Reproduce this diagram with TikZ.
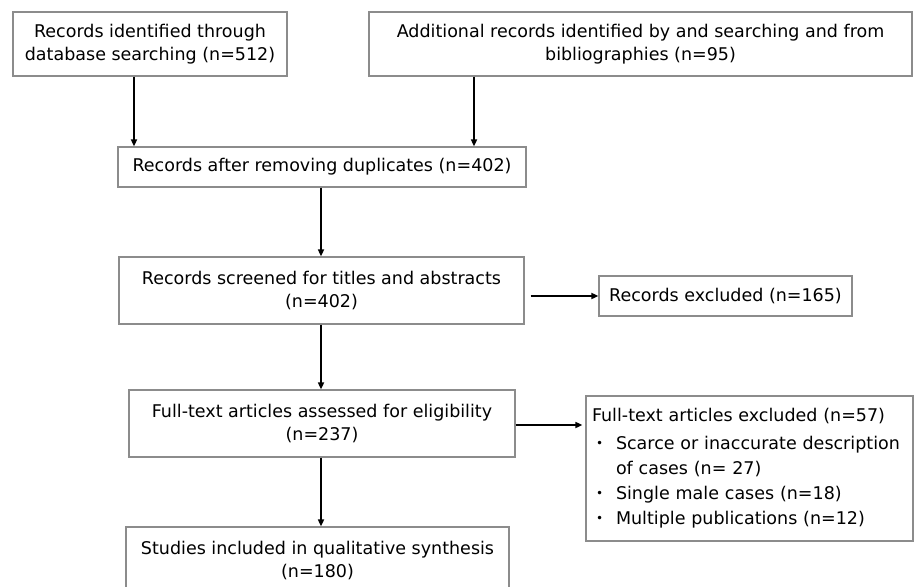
\documentclass[tikz,border=0pt]{standalone}
\usepackage{fontspec}
\setmainfont{DejaVu Sans}
\usepackage{xcolor}
\usetikzlibrary{arrows.meta}
\definecolor{boxgray}{HTML}{8C8C8C}

\tikzset{
  box/.style={draw=boxgray, line width=1.2pt, inner sep=0pt, align=center,
    font=\fontsize{17.5}{23}\selectfont},
  flow/.style={->, line width=1.6pt, black}
}
\newcommand{\bul}{\hspace*{4pt}\makebox[20pt][l]{\raisebox{2pt}{\fontsize{12}{12}\selectfont •}}}

\begin{document}
\begin{tikzpicture}[>={Triangle[length=7pt,width=6pt]}, x=1pt, y=-1pt]
  \useasboundingbox (0,0) rectangle (917,586);
  \clip (0,0) rectangle (917,586);
  \fill[white] (0,0) rectangle (917,586);
  % boxes
  \node[box, minimum width=274pt, minimum height=64pt] (ident) at (150,44)
    {Records identified through\\database searching (n=512)};
  \node[box, minimum width=543pt, minimum height=64pt] (extra) at (640.5,44)
    {Additional records identified by and searching and from\\bibliographies (n=95)};
  \node[box, minimum width=408pt, minimum height=40pt] (dedup) at (322,167)
    {Records after removing duplicates (n=402)};
  \node[box, minimum width=405pt, minimum height=67pt] (screen) at (321.5,290.5)
    {Records screened for titles and abstracts\\(n=402)};
  \node[box, minimum width=253pt, minimum height=40pt] (excl) at (725.5,296)
    {Records excluded (n=165)};
  \node[box, minimum width=386pt, minimum height=67pt] (elig) at (322,423.5)
    {Full-text articles assessed for eligibility\\(n=237)};
  \node[box, minimum width=327pt, minimum height=145pt, align=left,
    text width=315pt, font=\fontsize{17.5}{25.3}\selectfont] (ftexcl) at (749.5,468.5)
    {\raisebox{2pt}{Full-text articles excluded (n=57)}\\
     \bul Scarce or inaccurate description\\
     \hspace*{24pt}of cases (n= 27)\\
     \bul Single male cases (n=18)\\
     \bul Multiple publications (n=12)};
  \node[box, minimum width=383pt, minimum height=67pt] (incl) at (317.5,560.5)
    {Studies included in qualitative synthesis\\(n=180)};
  % connectors
  \draw[flow] ([xshift=-16pt]ident.south) -- ([xshift=-16pt]ident.south |- dedup.north);
  \draw[flow] ([xshift=-166.5pt]extra.south) -- ([xshift=-166.5pt]extra.south |- dedup.north);
  \draw[flow] ([xshift=-1pt]dedup.south) -- ([xshift=-1pt]dedup.south |- screen.north);
  \draw[flow] ([xshift=6pt]screen.east |- excl.west) -- (excl.west);
  \draw[flow] ([xshift=-0.5pt]screen.south) -- ([xshift=-0.5pt]screen.south |- elig.north);
  \draw[flow] ([yshift=-1.5pt]elig.east) -- ([yshift=-1.5pt,xshift=-3pt]elig.east -| ftexcl.west);
  \draw[flow] ([xshift=-1pt]elig.south) -- ([xshift=-1pt]elig.south |- incl.north);
\end{tikzpicture}
\end{document}
